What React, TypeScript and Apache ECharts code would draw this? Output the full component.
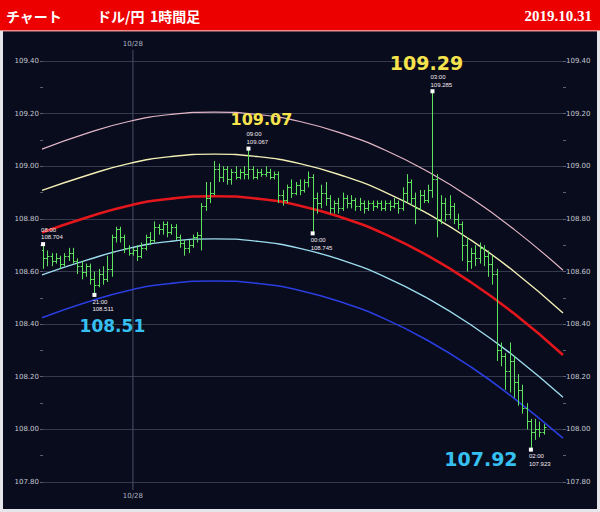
import React, { useEffect, useRef } from "react";
import * as echarts from "echarts";

// ---- Data (hourly USD/JPY OHLC, index = bar number) ----
const opens = [
  108.68, 108.65, 108.66, 108.64, 108.65, 108.63, 108.66, 108.67, 108.64, 108.62,
  108.60, 108.62, 108.57, 108.55, 108.59, 108.57, 108.61, 108.73, 108.76, 108.73,
  108.69, 108.67, 108.68, 108.66, 108.69, 108.73, 108.72, 108.77, 108.76, 108.78,
  108.75, 108.77, 108.73, 108.71, 108.69, 108.70, 108.73, 108.74, 108.85, 108.88,
  108.90, 108.99, 108.96, 108.99, 108.95, 108.98, 108.96, 108.98, 108.97, 108.99,
  108.96, 108.98, 108.97, 108.98, 108.96, 108.97, 108.89, 108.87, 108.92, 108.90,
  108.93, 108.91, 108.94, 108.96, 108.88, 108.86, 108.90, 108.88, 108.84, 108.86,
  108.84, 108.88, 108.86, 108.87, 108.85, 108.86, 108.84, 108.86, 108.85, 108.86,
  108.84, 108.86, 108.85, 108.86, 108.84, 108.90, 108.94, 108.88, 108.84, 108.89,
  108.87, 108.91, 108.95, 108.80, 108.86, 108.82, 108.85, 108.80, 108.78, 108.70,
  108.64, 108.67, 108.65, 108.69, 108.66, 108.63, 108.59, 108.30, 108.28, 108.22,
  108.26, 108.18, 108.15, 108.08, 108.03, 107.99, 108.00, 107.99,
];
const closes = [
  108.65, 108.66, 108.64, 108.65, 108.63, 108.66, 108.67, 108.64, 108.62, 108.60,
  108.62, 108.57, 108.55, 108.59, 108.57, 108.61, 108.73, 108.76, 108.73, 108.69,
  108.67, 108.68, 108.66, 108.69, 108.73, 108.72, 108.77, 108.76, 108.78, 108.75,
  108.77, 108.73, 108.71, 108.69, 108.70, 108.73, 108.74, 108.85, 108.88, 108.90,
  108.99, 108.96, 108.99, 108.95, 108.98, 108.96, 108.98, 108.97, 108.99, 108.96,
  108.98, 108.97, 108.98, 108.96, 108.97, 108.89, 108.87, 108.92, 108.90, 108.93,
  108.91, 108.94, 108.96, 108.88, 108.86, 108.90, 108.88, 108.84, 108.86, 108.84,
  108.88, 108.86, 108.87, 108.85, 108.86, 108.84, 108.86, 108.85, 108.86, 108.84,
  108.86, 108.85, 108.86, 108.84, 108.90, 108.94, 108.88, 108.84, 108.89, 108.87,
  108.91, 108.95, 108.80, 108.86, 108.82, 108.85, 108.80, 108.78, 108.70, 108.64,
  108.67, 108.65, 108.69, 108.66, 108.63, 108.59, 108.30, 108.28, 108.22, 108.26,
  108.18, 108.15, 108.08, 108.03, 107.99, 108.00, 107.99, 108.01,
];
const lows = [
  108.61, 108.62, 108.62, 108.63, 108.61, 108.62, 108.64, 108.63, 108.59, 108.57,
  108.58, 108.55, 108.511, 108.54, 108.55, 108.56, 108.58, 108.71, 108.71, 108.67,
  108.66, 108.66, 108.64, 108.65, 108.68, 108.70, 108.71, 108.74, 108.74, 108.73,
  108.74, 108.72, 108.69, 108.66, 108.67, 108.69, 108.71, 108.68, 108.83, 108.86,
  108.89, 108.94, 108.94, 108.93, 108.93, 108.95, 108.95, 108.95, 108.95, 108.95,
  108.95, 108.96, 108.96, 108.95, 108.95, 108.86, 108.85, 108.86, 108.88, 108.89,
  108.89, 108.90, 108.92, 108.745, 108.82, 108.84, 108.85, 108.82, 108.82, 108.82,
  108.83, 108.84, 108.84, 108.83, 108.83, 108.82, 108.83, 108.83, 108.84, 108.83,
  108.83, 108.83, 108.84, 108.82, 108.83, 108.86, 108.85, 108.78, 108.83, 108.86,
  108.86, 108.88, 108.73, 108.78, 108.79, 108.80, 108.78, 108.76, 108.64, 108.60,
  108.61, 108.62, 108.63, 108.62, 108.58, 108.55, 108.26, 108.24, 108.15, 108.14,
  108.12, 108.09, 108.06, 108.00, 107.923, 107.96, 107.97, 107.98,
];
const highs = [
  108.704, 108.68, 108.67, 108.67, 108.66, 108.67, 108.69, 108.69, 108.65, 108.64,
  108.63, 108.63, 108.60, 108.61, 108.62, 108.66, 108.74, 108.77, 108.77, 108.74,
  108.70, 108.69, 108.70, 108.71, 108.74, 108.75, 108.79, 108.78, 108.79, 108.79,
  108.78, 108.78, 108.74, 108.72, 108.72, 108.74, 108.75, 108.86, 108.94, 108.94,
  109.02, 109.01, 109.00, 109.00, 108.99, 109.00, 108.99, 109.00, 109.067, 109.00,
  108.99, 108.99, 109.00, 108.99, 108.98, 108.98, 108.91, 108.93, 108.95, 108.94,
  108.95, 108.95, 108.98, 108.97, 108.90, 108.93, 108.94, 108.89, 108.87, 108.88,
  108.90, 108.89, 108.89, 108.88, 108.88, 108.87, 108.87, 108.87, 108.87, 108.87,
  108.87, 108.87, 108.88, 108.87, 108.92, 108.97, 108.95, 108.90, 108.91, 108.91,
  108.93, 109.285, 108.97, 108.89, 108.88, 108.89, 108.86, 108.82, 108.79, 108.73,
  108.69, 108.70, 108.71, 108.70, 108.68, 108.66, 108.61, 108.33, 108.29, 108.33,
  108.28, 108.21, 108.17, 108.10, 108.04, 108.04, 108.03, 108.02,
];

// Regression channel curves at sample bar positions
const curveX = [-0.25, 10, 20, 30, 40, 50, 60, 70, 80, 90, 100, 110, 121.5];
const pinkCurve = [109.065, 109.124, 109.17, 109.197, 109.206, 109.197, 109.17, 109.124, 109.061, 108.979, 108.879, 108.761, 108.605];
const yellowCurve = [108.908, 108.964, 109.01, 109.037, 109.046, 109.037, 109.01, 108.964, 108.901, 108.819, 108.719, 108.601, 108.442];
const redCurve = [108.748, 108.804, 108.85, 108.877, 108.886, 108.877, 108.85, 108.804, 108.741, 108.659, 108.559, 108.441, 108.283];
const cyanCurve = [108.587, 108.642, 108.688, 108.715, 108.724, 108.715, 108.688, 108.642, 108.579, 108.497, 108.397, 108.279, 108.122];
const blueCurve = [108.424, 108.482, 108.528, 108.555, 108.564, 108.555, 108.528, 108.482, 108.419, 108.337, 108.237, 108.119, 107.967];

// Marked highs / lows
const markIdx = [0, 12, 48, 63, 91, 114];
const markValue = [108.704, 108.511, 109.067, 108.745, 109.285, 107.923];
const markTime = ["08:00", "21:00", "09:00", "00:00", "03:00", "02:00"];
const markAbove = [true, false, true, false, true, false];

const bigIdx = [12, 48, 91, 114];
const bigValue = [108.511, 109.067, 109.285, 107.923];
const bigText = ["108.51", "109.07", "109.29", "107.92"];

const dateLineIdx = 21;
const dateLineText = "10/28";
const headerTexts = ["チャート", "ドル/円", "1時間足"];
const headerDate = "2019.10.31";

const Y_MIN = 107.8;
const Y_MAX = 109.4;
const Y_STEP = 0.2;
const X_MIN = -0.25;
const X_MAX = 121.5;

const CANDLE = "#5ee35e";

export default function App() {
  const ref = useRef<HTMLDivElement>(null);

  useEffect(() => {
    if (!ref.current) return;
    const chart = echarts.init(ref.current, undefined, { renderer: "svg" });

    const ohlc = opens.map((o, i) => [i, o, closes[i], lows[i], highs[i]]);
    const curve = (vals: number[]) => curveX.map((x, k) => [x, vals[k]]);

    const renderItem = (params: any, api: any) => {
      const i = api.value(0);
      const pO = api.coord([i, api.value(1)]);
      const pC = api.coord([i, api.value(2)]);
      const pL = api.coord([i, api.value(3)]);
      const pH = api.coord([i, api.value(4)]);
      const x = Math.round(pO[0]) + 0.5;
      const yo = Math.round(pO[1]) + 0.5;
      const yc = Math.round(pC[1]) + 0.5;
      const style = { stroke: CANDLE, lineWidth: 1 };
      return {
        type: "group",
        children: [
          { type: "line", shape: { x1: x, y1: pH[1], x2: x, y2: pL[1] }, style },
          { type: "line", shape: { x1: x - 2, y1: yo, x2: x, y2: yo }, style },
          { type: "line", shape: { x1: x, y1: yc, x2: x + 2, y2: yc }, style },
        ],
      };
    };

    const bigOffsets: Record<string, number[]> = {
      "108.51": [18, 31],
      "109.07": [13, -29],
      "109.29": [-6, -28],
      "107.92": [-50, 9],
    };
    const bigColors: Record<string, string> = {
      "108.51": "#36c0f2",
      "109.07": "#f7e34c",
      "109.29": "#f7e34c",
      "107.92": "#36c0f2",
    };
    const bigSizes: Record<string, number> = {
      "108.51": 17,
      "109.07": 16,
      "109.29": 19,
      "107.92": 19,
    };

    const yAxisCommon = {
      type: "value",
      gridIndex: 0,
      min: Y_MIN,
      max: Y_MAX,
      interval: Y_STEP,
      axisLine: { show: false },
      axisTick: { show: true, length: 3, lineStyle: { color: "#5a6070" } },
      minorTick: { show: true, splitNumber: 2, length: 3, lineStyle: { color: "#5a6070" } },
      axisLabel: {
        fontSize: 7,
        fontFamily: "DejaVu Sans",
        color: "#c4c8d0",
        margin: 3,
        formatter: (v: number) => v.toFixed(2),
      },
    };

    const option: any = {
      animation: false,
      backgroundColor: "#080c1d",
      graphic: [
        { type: "rect", shape: { x: 0, y: 0, width: 600, height: 30 }, style: { fill: "#ec0000" }, z: 1 },
        { type: "rect", shape: { x: 0, y: 30, width: 600, height: 1.5 }, style: { fill: "#f08a8a" }, z: 1 },
        { type: "rect", shape: { x: 0, y: 31, width: 3, height: 481 }, style: { fill: "#e4e6ec" }, z: 1 },
        { type: "rect", shape: { x: 597, y: 31, width: 3, height: 481 }, style: { fill: "#e4e6ec" }, z: 1 },
        { type: "rect", shape: { x: 0, y: 509, width: 600, height: 3 }, style: { fill: "#e4e6ec" }, z: 1 },
        {
          type: "text", x: 6, y: 16, z: 2,
          style: { text: headerTexts[0], fill: "#fff", font: "bold 14px 'Noto Sans CJK JP'", verticalAlign: "middle" },
        },
        {
          type: "text", x: 97, y: 16, z: 2,
          style: { text: headerTexts[1], fill: "#fff", font: "bold 14px 'Noto Sans CJK JP'", verticalAlign: "middle" },
        },
        {
          type: "text", x: 150, y: 16, z: 2,
          style: { text: headerTexts[2], fill: "#fff", font: "bold 14px 'Noto Sans CJK JP'", verticalAlign: "middle" },
        },
        {
          type: "text", x: 592, y: 16, z: 2,
          style: { text: headerDate, fill: "#fff", font: "bold 15px 'Liberation Serif'", align: "right", verticalAlign: "middle" },
        },
      ],
      grid: [
        { left: 42, right: 37, top: 61, bottom: 30 },
        { left: 42, right: 37, top: 50, bottom: 22 },
      ],
      xAxis: [
        { type: "value", gridIndex: 0, min: X_MIN, max: X_MAX, show: false },
        { type: "value", gridIndex: 1, min: X_MIN, max: X_MAX, show: false },
      ],
      yAxis: [
        {
          ...yAxisCommon,
          position: "left",
          splitLine: { show: true, lineStyle: { color: "#343a4c", width: 1 } },
        },
        {
          ...yAxisCommon,
          position: "right",
          splitLine: { show: false },
        },
        { type: "value", gridIndex: 1, min: 0, max: 1, show: false },
      ],
      series: [
        {
          type: "line",
          xAxisIndex: 1,
          yAxisIndex: 2,
          data: [
            { value: [dateLineIdx, 0], label: { show: true, position: "bottom", distance: 2 } },
            { value: [dateLineIdx, 1], label: { show: true, position: "top", distance: 2 } },
          ],
          symbol: "circle",
          symbolSize: 1,
          itemStyle: { color: "rgba(0,0,0,0)" },
          lineStyle: { color: "#4a5166", width: 1 },
          label: {
            formatter: () => dateLineText,
            color: "#aeb4c0",
            fontSize: 7,
            fontFamily: "DejaVu Sans",
          },
          silent: true,
          z: 1,
        },
        ...[
          { d: pinkCurve, c: "#e3b6c6", w: 1.2 },
          { d: yellowCurve, c: "#f2eeb4", w: 1.4 },
          { d: redCurve, c: "#e3161c", w: 2.6 },
          { d: cyanCurve, c: "#9cdcee", w: 1.4 },
          { d: blueCurve, c: "#2a3ee0", w: 1.6 },
        ].map((s) => ({
          type: "line",
          xAxisIndex: 0,
          yAxisIndex: 0,
          data: curve(s.d),
          smooth: true,
          symbol: "none",
          lineStyle: { color: s.c, width: s.w },
          silent: true,
          z: 2,
        })),
        {
          type: "custom",
          xAxisIndex: 0,
          yAxisIndex: 0,
          renderItem,
          data: ohlc,
          encode: { x: 0, y: [1, 2, 3, 4] },
          z: 3,
          clip: true,
        },
        {
          type: "scatter",
          xAxisIndex: 0,
          yAxisIndex: 0,
          symbol: "rect",
          symbolSize: 4,
          itemStyle: { color: "#ffffff", opacity: 1 },
          z: 5,
          data: markIdx.map((ix, k) => ({
            value: [ix, markValue[k]],
            label: {
              show: true,
              position: markAbove[k] ? "top" : "bottom",
              align: "left",
              offset: [-2, 0],
              distance: 1,
              formatter: markTime[k] + "\n" + markValue[k].toFixed(3),
              color: "#f6eaf0",
              opacity: 1,
              fontSize: 6,
              lineHeight: 7.5,
              fontFamily: "Liberation Sans",
            },
          })),
        },
        {
          type: "scatter",
          xAxisIndex: 0,
          yAxisIndex: 0,
          symbol: "circle",
          symbolSize: 1,
          itemStyle: { color: "rgba(0,0,0,0)", opacity: 1 },
          z: 6,
          data: bigIdx.map((ix, k) => ({
            value: [ix, bigValue[k]],
            label: {
              show: true,
              position: "inside",
              offset: bigOffsets[bigText[k]],
              formatter: bigText[k],
              color: bigColors[bigText[k]],
              opacity: 1,
              textBorderWidth: 0,
              fontSize: bigSizes[bigText[k]],
              fontWeight: "bold",
              fontFamily: "DejaVu Sans",
            },
          })),
        },
      ],
    };

    chart.setOption(option);
    return () => chart.dispose();
  }, []);

  return (
    <div
      ref={ref}
      style={{ position: "fixed", left: 0, top: 0, width: 600, height: 512 }}
    />
  );
}
